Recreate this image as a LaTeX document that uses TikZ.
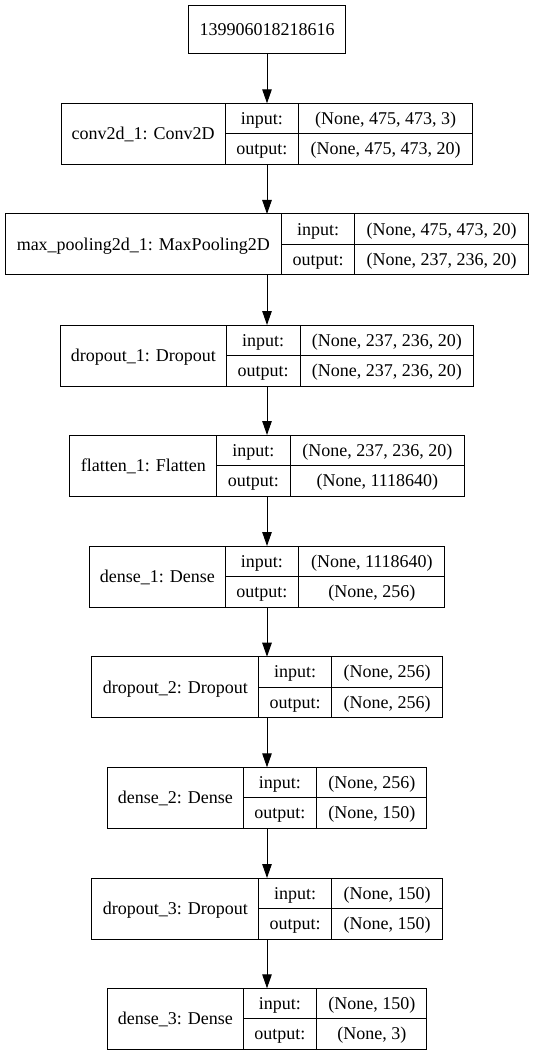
\documentclass[tikz,border=0pt]{standalone}
\usepackage{fontspec}
\setmainfont{Liberation Serif}
\usetikzlibrary{arrows.meta}

\tikzset{
  cell/.style={draw=black, line width=1pt, inner sep=0pt, outer sep=0pt},
  celltext/.style={anchor=base, inner sep=0pt, font=\fontsize{18}{20}\selectfont},
  rule/.style={draw=black, line width=1pt},
  flow/.style={draw=black, line width=1pt, -{Triangle[length=14pt,width=9.5pt]}},
}

% One layer record: #1 name, #2 top, #3 left, #4 first divider, #5 second divider,
% #6 right, #7 layer label, #8 input shape, #9 output shape (all in pt, y downwards)
\newcommand\layerrow[9]{%
  \node[cell, minimum width={(#6-#3)*1pt}, minimum height=61pt] (#1) at (267,{-(#2+30.5)}) {};
  \draw[rule] (#4,-#2) -- (#4,{-(#2+61)});
  \draw[rule] (#5,-#2) -- (#5,{-(#2+61)});
  \draw[rule] (#4,{-(#2+30.5)}) -- (#6,{-(#2+30.5)});
  \node[celltext] (#1-lbl) at ({(#3+#4)/2},{-(#2+30.5+5.8)}) {#7};
  \node[celltext] (#1-inkey) at ({(#4+#5)/2},{-(#2+15.25+5.8)}) {input:};
  \node[celltext] (#1-outkey) at ({(#4+#5)/2},{-(#2+45.75+5.8)}) {output:};
  \node[celltext] (#1-inval) at ({(#5+#6)/2},{-(#2+15.25+5.8)}) {#8};
  \node[celltext] (#1-outval) at ({(#5+#6)/2},{-(#2+45.75+5.8)}) {#9};
}

\begin{document}
\begin{tikzpicture}[x=1pt, y=1pt]
  \useasboundingbox[fill=white] (0,0) rectangle (535,-1056);

  % model input node
  \node[cell, minimum width=157.4pt, minimum height=47.6pt] (in) at (267,-29.5) {};
  \node[celltext] (in-lbl) at (267,-35.5) {139906018218616};

  \layerrow{l1}{103.3}{61}{225.2}{298.5}{472.7}{conv2d\_1: Conv2D}{(None, 475, 473, 3)}{(None, 475, 473, 20)}
  \layerrow{l2}{214}{5}{281.5}{354.8}{528.5}{max\_pooling2d\_1: MaxPooling2D}{(None, 475, 473, 20)}{(None, 237, 236, 20)}
  \layerrow{l3}{325}{60.4}{226.2}{300.2}{473.6}{dropout\_1: Dropout}{(None, 237, 236, 20)}{(None, 237, 236, 20)}
  \layerrow{l4}{435}{69.9}{216.6}{290}{464.7}{flatten\_1: Flatten}{(None, 237, 236, 20)}{(None, 1118640)}
  \layerrow{l5}{546}{89.4}{225.2}{298.5}{445.2}{dense\_1: Dense}{(None, 1118640)}{(None, 256)}
  \layerrow{l6}{656.7}{92.1}{258.6}{331.6}{442.5}{dropout\_2: Dropout}{(None, 256)}{(None, 256)}
  \layerrow{l7}{767.3}{107.5}{243.3}{316.6}{427.2}{dense\_2: Dense}{(None, 256)}{(None, 150)}
  \layerrow{l8}{878}{92.1}{258.6}{331.6}{442.5}{dropout\_3: Dropout}{(None, 150)}{(None, 150)}
  \layerrow{l9}{988.3}{107.5}{243.3}{316.6}{427.2}{dense\_3: Dense}{(None, 150)}{(None, 3)}

  % data flow between layers
  \draw[flow] (in.south) -- (l1.north);
  \draw[flow] (l1.south) -- (l2.north);
  \draw[flow] (l2.south) -- (l3.north);
  \draw[flow] (l3.south) -- (l4.north);
  \draw[flow] (l4.south) -- (l5.north);
  \draw[flow] (l5.south) -- (l6.north);
  \draw[flow] (l6.south) -- (l7.north);
  \draw[flow] (l7.south) -- (l8.north);
  \draw[flow] (l8.south) -- (l9.north);
\end{tikzpicture}
\end{document}
